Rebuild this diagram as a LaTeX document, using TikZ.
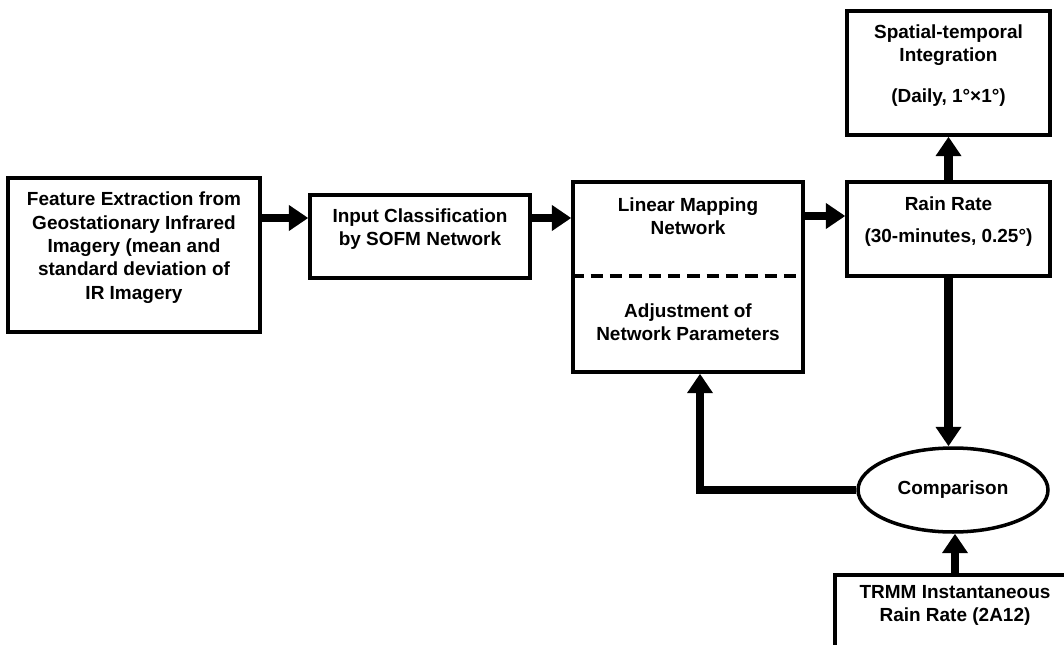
\documentclass[tikz,border=0pt]{standalone}
\usepackage{fontspec}
\setmainfont{Liberation Sans}
\usetikzlibrary{arrows.meta,shapes.geometric,positioning}
\tikzset{
  block/.style={
    draw,
    line width=2pt,
    align=center,
    inner sep=2pt,
    text depth=0.37cm,
    font=\bfseries\fontsize{10.8}{13.3}\selectfont
  },
  txt/.style={
    align=center,
    inner sep=1pt,
    font=\bfseries\fontsize{10.8}{13.3}\selectfont
  },
  oval/.style={
    draw,
    shape=ellipse,
    line width=2pt,
    inner sep=1pt,
    font=\bfseries\fontsize{10.8}{13.3}\selectfont
  },
  flow/.style={
    line width=5pt,
    -{Triangle[length=11pt,width=14pt]}
  },
  divider/.style={
    line width=2pt,
    dash pattern=on 7pt off 4pt
  }
}

\begin{document}
\begin{tikzpicture}[x=0.02cm,y=-0.02cm]
  \useasboundingbox (0,0) rectangle (1064,645);
  \clip (0,0) rectangle (1064,645);
  \node[block,minimum width=5.04cm,minimum height=3.08cm] (feat) at (134,255)
    {Feature Extraction from\\Geostationary Infrared\\Imagery (mean and\\standard deviation of\\IR Imagery};
  \node[block,minimum width=4.4cm,minimum height=1.66cm] (input) at (420,236.5)
    {Input Classification\\by SOFM Network};
  \node[block,minimum width=4.6cm,minimum height=3.8cm] (lmn) at (688,277) {};
  \node[txt] (lmnup) at (688,216) {Linear Mapping\\Network};
  \node[txt] (lmnlow) at (688,322) {Adjustment of\\Network Parameters};
  \draw[divider] (lmn.west |- 0,276) -- (lmn.east |- 0,276);
  \node[block,minimum width=4.06cm,minimum height=1.88cm] (rain) at (948.5,229)
    {Rain Rate\\[5pt](30-minutes, 0.25°)};
  \node[block,minimum width=4.06cm,minimum height=2.48cm] (spat) at (948.5,73)
    {Spatial-temporal\\Integration\\[10pt](Daily, 1°×1°)};
  \node[oval,minimum width=3.8cm,minimum height=1.68cm] (cmp) at (953,490) {Comparison};
  \node[block,text depth=0.67cm,minimum width=4.8cm,minimum height=1.8cm] (trmm) at (955,620)
    {TRMM Instantaneous\\Rain Rate (2A12)};
  \foreach \a/\b in {feat/input,input/lmn}{
    \draw[flow] (\a.east |- 0,218) -- (\b.west |- 0,218);
  }
  \draw[flow] (lmn.east |- 0,216) -- (rain.west |- 0,216);
  \draw[flow] (rain.north) -- (spat.south);
  \draw[flow] (rain.south) -- (rain.south |- cmp.north);
  \draw[flow] (trmm.north) -- (trmm.north |- cmp.south);
  \draw[flow] (cmp.west) -| ([xshift=0.24cm]lmn.south);
\end{tikzpicture}
\end{document}
